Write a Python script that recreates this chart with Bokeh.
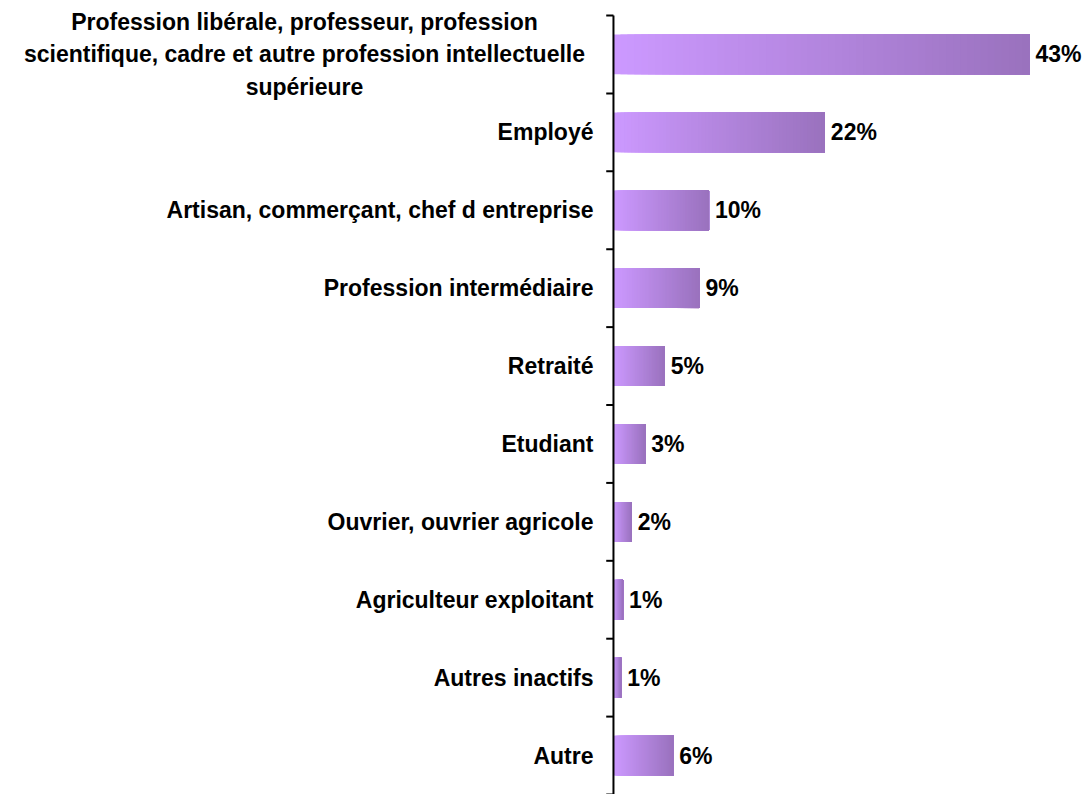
from bokeh.plotting import figure
from bokeh.models import ColumnDataSource, Range1d
from bokeh.core.properties import value
from bokeh.embed import file_html
from bokeh.resources import INLINE

categories = [
    "Profession libérale, professeur, profession\nscientifique, cadre et autre profession intellectuelle\nsupérieure",
    "Employé",
    "Artisan, commerçant, chef d entreprise",
    "Profession intermédiaire",
    "Retraité",
    "Etudiant",
    "Ouvrier, ouvrier agricole",
    "Agriculteur exploitant",
    "Autres inactifs",
    "Autre",
]
values = [43.1, 21.9, 9.9, 8.9, 5.3, 3.3, 1.9, 1.0, 0.8, 6.2]
value_labels = ["43%", "22%", "10%", "9%", "5%", "3%", "2%", "1%", "1%", "6%"]

# styles
FONT = "Liberation Sans"
FONT_SIZE = "23px"
LEFT_COLOR = (204, 153, 255)
RIGHT_COLOR = (154, 114, 190)
N_SLICES = 60
label_align = ["center"] + ["right"] * (len(categories) - 1)
label_offset = [-309] + [-20] * (len(categories) - 1)

n = len(categories)
p = figure(width=1085, height=794, output_backend="svg", toolbar_location=None,
           x_range=Range1d(-63.5, 48.9), y_range=Range1d(n, -0.193),
           min_border=0)
p.outline_line_color = None
p.grid.visible = False
p.axis.visible = False
p.background_fill_color = "white"

# gradient bars, built as stacked overlapping slices
ys, lefts, rights, colors = [], [], [], []
for i, v in enumerate(values):
    for k in range(N_SLICES):
        t = k / (N_SLICES - 1)
        c = tuple(int(round(a + (b - a) * t)) for a, b in zip(LEFT_COLOR, RIGHT_COLOR))
        ys.append(i + 0.5)
        lefts.append(v * k / N_SLICES)
        rights.append(v)
        colors.append("#%02x%02x%02x" % c)
p.hbar(y=ys, left=lefts, right=rights, height=0.51, fill_color=colors, line_color=None)

# axis line and tick marks at category boundaries
p.segment(x0=[0], y0=[0], x1=[0], y1=[n], line_color="black", line_width=2)
bounds = list(range(n + 1))
p.segment(x0=[-0.75] * len(bounds), y0=bounds, x1=[0] * len(bounds), y1=bounds,
          line_color="black", line_width=2)

src = ColumnDataSource(dict(
    y=[i + 0.5 for i in range(n)],
    zero=[0] * n,
    cat=categories,
    val=values,
    lab=value_labels,
    align=label_align,
    off=label_offset,
))
p.text(x="zero", y="y", text="cat", source=src, x_offset="off", text_align="align",
       text_baseline="middle", text_font=value(FONT), text_font_style="bold",
       text_font_size=value(FONT_SIZE), text_line_height=1.25, text_color="black")
p.text(x="val", y="y", text="lab", source=src, x_offset=6, text_align="left",
       text_baseline="middle", text_font=value(FONT), text_font_style="bold",
       text_font_size=value(FONT_SIZE), text_color="black")

open("out.html", "w").write(file_html(p, INLINE))
